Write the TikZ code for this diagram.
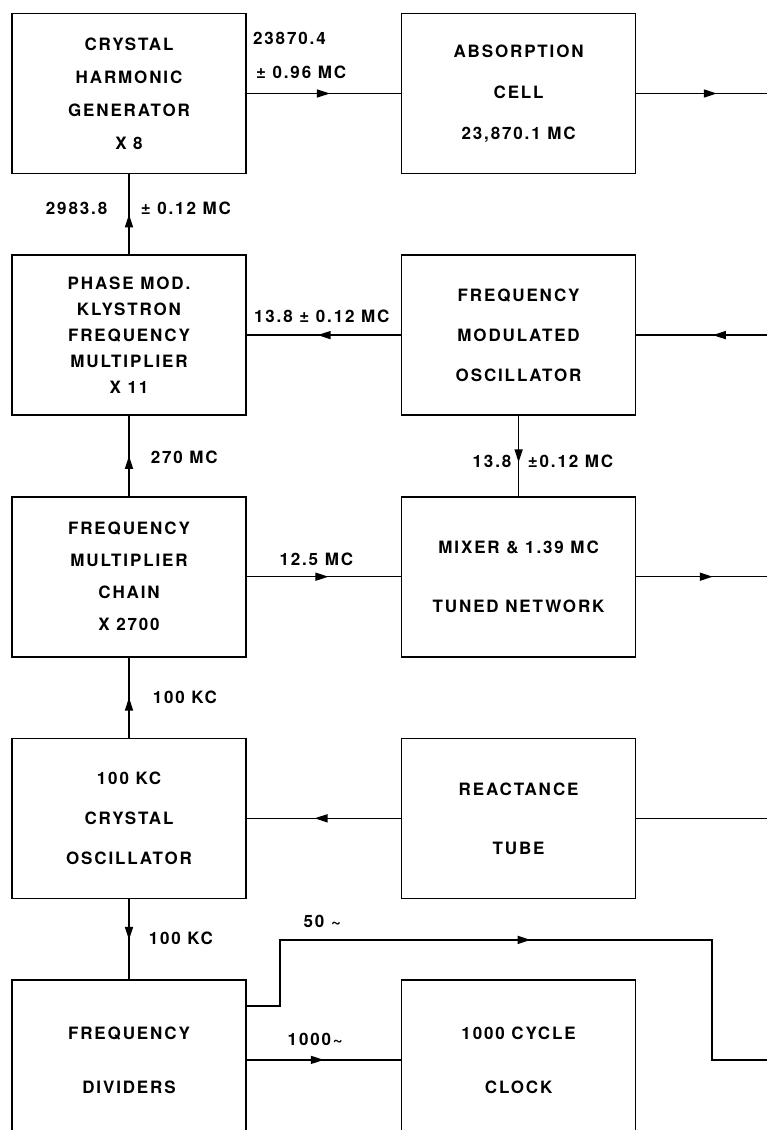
\documentclass[tikz,border=0pt]{standalone}
\usepackage{fontspec}
\setmainfont{TeX Gyre Heros}[LetterSpace=11]
\usepackage{tikz}
\usetikzlibrary{arrows.meta,positioning,calc,decorations.markings}
\newcommand{\lettering}{\fontsize{17pt}{20pt}\selectfont\bfseries}

\begin{document}
\begin{tikzpicture}[x=1pt, y=1pt, line width=1.5pt, node distance=80pt and 154pt]
\tikzstyle{block}=[draw, line width=1.6pt, minimum width=234pt, minimum height=160pt, inner sep=0pt, align=center, font=\lettering]
\tikzstyle{tag}=[font=\lettering, inner sep=0pt]
\tikzstyle{flow}=[decoration={markings, mark=at position #1 with {\arrow{Triangle[length=13pt,width=8pt]}}}, postaction={decorate}]
\path[use as bounding box, clip] (0,0) rectangle (767,-1130);

\node[block]    (H) at (129,-93.5)  {CRYSTAL\\[13pt] HARMONIC\\[13pt] GENERATOR\\[13pt] X 8};
\node[block]    (C)[right=of H]     {ABSORPTION\\[21pt] CELL\\[21pt] 23,870.1 MC};
\node[block]    (K)[below=of H]     {PHASE MOD.\\[6pt] KLYSTRON\\[6pt] FREQUENCY\\[6pt] MULTIPLIER\\[6pt] X 11};
\node[block]    (F)[below=of C]     {FREQUENCY\\[20pt] MODULATED\\[20pt] OSCILLATOR};
\node[block]    (M)[below=of K]     {FREQUENCY\\[12pt] MULTIPLIER\\[12pt] CHAIN\\[12pt] X 2700};
\node[block]    (N)[below=of F]     {MIXER \& 1.39 MC\\[39pt] TUNED NETWORK};
\node[block]    (O)[below=of M]     {100 KC\\[20pt] CRYSTAL\\[20pt] OSCILLATOR};
\node[block]    (R)[below=of N]     {REACTANCE\\[39pt] TUBE};
\node[block]    (D)[below=of O]     {FREQUENCY\\[34pt] DIVIDERS};
\node[block]    (T)[below=of R]     {1000 CYCLE\\[34pt] CLOCK};

% free ends at the right margin
\coordinate[right=134pt of C.east] (Cout);
\coordinate[right=134pt of F.east] (Fin);
\coordinate[right=134pt of N.east] (Nout);
\coordinate[right=134pt of R.east] (Rout);
\coordinate[right=134pt of T.east] (Tout);

\path
(H) edge[flow=0.54]  (C)
(C) edge[flow=0.6]   (Cout)
(K) edge[flow=0.5]   (H)
(F) edge[flow=0.54]  (K)
(Fin) edge[flow=0.43] (F)
(F) edge[flow=0.58]  (N)
(M) edge[flow=0.5]   (K)
(M) edge[flow=0.53]  (N)
(N) edge[flow=0.57]  (Nout)
(O) edge[flow=0.5]   (M)
(R) edge[flow=0.56]  (O)
(R) edge             (Rout)
(O) edge[flow=0.51]  (D)
(D) edge[flow=0.5]   (T);
\draw[flow=0.493] ([yshift=54pt]D.east) -- ++(33,0) -- ++(0,66) -- ++(432,0) -- ++(0,-120) -- (Tout);

\node[tag, anchor=west] at ($(H.east)+(5.5,55.5)$) {23870.4};
\node[tag, anchor=west] at ($(H.east)+(8.5,21.5)$) {± 0.96 MC};
\node[tag, anchor=east] at ($(H.south)+(-21,-34)$) {2983.8};
\node[tag, anchor=west] at ($(H.south)+(11,-34)$) {± 0.12 MC};
\node[tag] at ($(K.east)+(75,18.5)$) {13.8 ± 0.12 MC};
\node[tag, anchor=west] at ($(K.south)+(21,-41.5)$) {270 MC};
\node[tag, anchor=east] at ($(F.south)+(-6.5,-45.5)$) {13.8};
\node[tag, anchor=west] at ($(F.south)+(8.5,-45.5)$) {±0.12 MC};
\node[tag] at ($(M.east)+(69.5,17.5)$) {12.5 MC};
\node[tag, anchor=west] at ($(M.south)+(23,-39.5)$) {100 KC};
\node[tag, anchor=west] at ($(O.south)+(19,-39.5)$) {100 KC};
\node[tag] at ($(D.east)+(75.5,138.5)$) {50 \textasciitilde};
\node[tag] at ($(D.east)+(68.5,20.5)$) {1000\textasciitilde};
\end{tikzpicture}
\end{document}
